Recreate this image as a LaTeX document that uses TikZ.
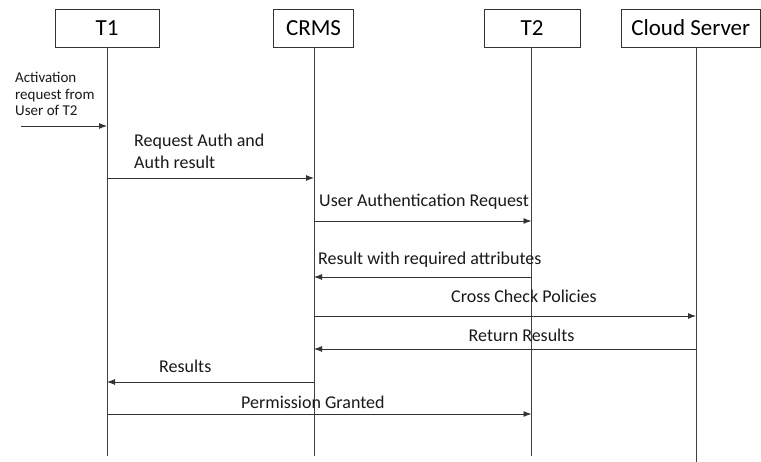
\documentclass[tikz,border=0pt]{standalone}
\usepackage{fontspec}
\setmainfont{Carlito}
\usetikzlibrary{arrows.meta}
\begin{document}
\begin{tikzpicture}[x=1pt,y=-1pt,
  actor/.style={draw=black!80,line width=0.9pt,fill=white,minimum height=38pt,
    inner sep=0pt,font=\fontsize{23}{27}\selectfont},
  lifeline/.style={draw=black!75,line width=0.9pt},
  msg/.style={draw=black!80,line width=0.9pt,-{Latex[length=8pt,width=6pt]}},
  lbl/.style={anchor=base west,inner sep=0pt,font=\fontsize{18}{21}\selectfont,text=black!90},
  note/.style={anchor=base west,inner sep=0pt,align=left,
    font=\fontsize{15}{16.8}\selectfont,text=black!90}]
  % canvas
  \fill[white] (0,0) rectangle (761,462);
  \useasboundingbox (0,0) rectangle (761,462);

  % participants
  \node[actor,minimum width=104pt] (t1) at (107,28) {T1};
  \node[actor,minimum width=80pt] (crms) at (313.5,28) {CRMS};
  \node[actor,minimum width=96pt] (t2) at (532,28) {T2};
  \node[actor,minimum width=139.5pt] (cs) at (690.75,28) {Cloud Server};

  % lifeline end points
  \coordinate (t1top) at (107,47);
  \coordinate (crtop) at (314,47);
  \coordinate (t2top) at (531.5,47);
  \coordinate (cstop) at (696,47);
  \coordinate (t1end) at (107,456);
  \coordinate (crend) at (314,456);
  \coordinate (t2end) at (531.5,456);
  \coordinate (csend) at (696,462);
  \draw[lifeline] (t1top) -- (t1end);
  \draw[lifeline] (crtop) -- (crend);
  \draw[lifeline] (t2top) -- (t2end);
  \draw[lifeline] (cstop) -- (csend);

  % message anchor points on the lifelines
  \coordinate (in0) at (21,126);   \coordinate (t1a) at (107,126);
  \coordinate (t1b) at (107,178);  \coordinate (crb) at (314,178);
  \coordinate (crc) at (314,221);  \coordinate (t2c) at (531.5,221);
  \coordinate (t2d) at (531.5,277);\coordinate (crd) at (314,277);
  \coordinate (cre) at (314,316);  \coordinate (cse) at (696,316);
  \coordinate (csf) at (696,349);  \coordinate (crf) at (314,349);
  \coordinate (crg) at (314,382);  \coordinate (t1g) at (107,382);
  \coordinate (t1h) at (107,414);  \coordinate (t2h) at (531.5,414);

  % messages
  \draw[msg] (in0) -- (t1a);
  \draw[msg] (t1b) -- (crb);
  \draw[msg] (crc) -- (t2c);
  \draw[msg] (t2d) -- (crd);
  \draw[msg] (cre) -- (cse);
  \draw[msg] (csf) -- (crf);
  \draw[msg] (crg) -- (t1g);
  \draw[msg] (t1h) -- (t2h);

  % labels (the note's base anchor sits on its last line)
  \node[note] (lin) at (15,116) {Activation\\request from\\User of T2};
  \node[lbl] (l1a) at (134,147) {Request Auth and};
  \node[lbl] (l1b) at (134,169) {Auth result};
  \node[lbl] (l2) at (319,207) {User Authentication Request};
  \node[lbl] (l3) at (318,265) {Result with required attributes};
  \node[lbl] (l4) at (451,303) {Cross Check Policies};
  \node[lbl] (l5) at (468.5,342) {Return Results};
  \node[lbl] (l6) at (159,373) {Results};
  \node[lbl] (l7) at (241,409) {Permission Granted};
\end{tikzpicture}
\end{document}
